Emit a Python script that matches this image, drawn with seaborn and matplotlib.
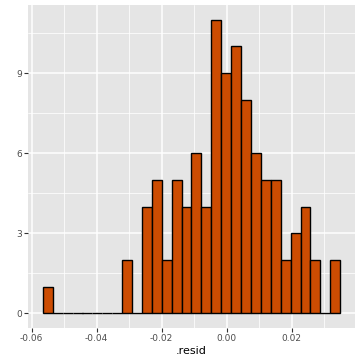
import numpy as np
import pandas as pd
import matplotlib
matplotlib.use("Agg")
import matplotlib.pyplot as plt
import seaborn as sns

# Data (30 bins)
data_min = -0.0550
data_max = 0.0334
counts = [1, 0, 0, 0, 0, 0, 0, 0, 2, 0,
          4, 5, 2, 5, 4, 6, 4, 11, 9, 10,
          8, 6, 5, 5, 2, 3, 4, 2, 0, 2]
x_ticks = [-0.06, -0.04, -0.02, 0.00, 0.02]
x_ticklabels = ["-0.06", "-0.04", "-0.02", "0.00", "0.02"]
y_ticks = [0, 3, 6, 9]

nbins = len(counts)
width = (data_max - data_min) / (nbins - 1)
centers = data_min + width * np.arange(nbins)
lo = centers[0] - width / 2
hi = centers[-1] + width / 2
df = pd.DataFrame({"resid": centers, "n": counts})

sns.set_theme(style="darkgrid")
fig = plt.figure(figsize=(3.6, 3.6), dpi=100)
ax = fig.add_axes([28 / 360, 32 / 360, 327 / 360, 323 / 360])
ax.set_facecolor("#E5E5E5")

sns.histplot(data=df, x="resid", weights="n", bins=nbins, binrange=(lo, hi), ax=ax,
             color="#CC4C02", edgecolor="black", linewidth=1.0, alpha=1.0)

xr = hi - lo
ax.set_xlim(lo - 0.05 * xr, hi + 0.05 * xr)
ymax = max(counts)
ax.set_ylim(-0.05 * ymax, ymax * 1.05)

ax.set_xticks(x_ticks)
ax.set_xticklabels(x_ticklabels)
ax.set_xticks([-0.05, -0.03, -0.01, 0.01, 0.03], minor=True)
ax.set_yticks(y_ticks)
ax.set_yticklabels([str(v) for v in y_ticks])
ax.set_yticks([1.5, 4.5, 7.5, 10.5], minor=True)

ax.grid(which="major", color="white", linewidth=1.1)
ax.grid(which="minor", color="white", linewidth=0.55)
ax.set_axisbelow(True)
for s in ax.spines.values():
    s.set_visible(False)

ax.tick_params(axis="both", which="major", length=2.7, width=0.8, color="#333333",
               labelsize=6.5, labelcolor="#4D4D4D", pad=1.5, direction="out",
               bottom=True, left=True)
ax.tick_params(axis="both", which="minor", length=0)
ax.set_xlabel(".resid", fontsize=8, color="black", labelpad=2)
ax.set_ylabel("")

fig.savefig("out.png", dpi=100, facecolor="white")
